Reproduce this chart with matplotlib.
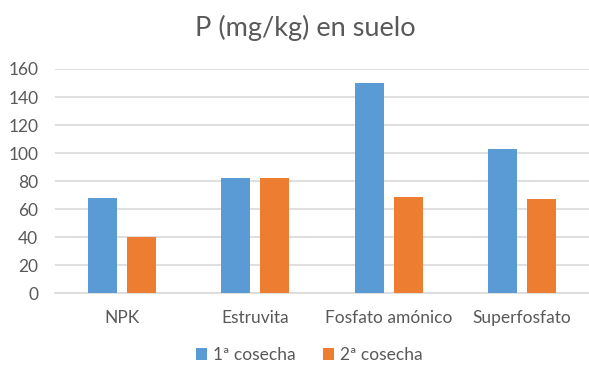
import numpy as np
import matplotlib.pyplot as plt

plt.rcParams['font.family'] = ['Lato', 'DejaVu Sans']

categorias = ['NPK', 'Estruvita', 'Fosfato amónico', 'Superfosfato']
cosecha_1 = [68, 82, 150, 103]
cosecha_2 = [40, 82, 69, 67]
series = ['1ª cosecha', '2ª cosecha']

AZUL = '#5B9BD5'
NARANJA = '#ED7D31'
GRIS_TEXTO = '#595959'
GRIS_REJILLA = '#D9D9D9'

fig = plt.figure(figsize=(5.89, 3.68), dpi=100)
ax = fig.add_axes([55 / 589, 74.7 / 368, 534 / 589, 224.3 / 368])

x = np.arange(len(categorias))
ancho = 0.217
desp = 0.146
ax.bar(x - desp, cosecha_1, ancho, color=AZUL, label=series[0], zorder=3)
ax.bar(x + desp, cosecha_2, ancho, color=NARANJA, label=series[1], zorder=3)

ax.set_xlim(-0.5, len(categorias) - 0.5)
ax.set_ylim(0, 160)
ax.set_yticks(np.arange(0, 161, 20))
ax.set_xticks(x)
ax.set_xticklabels(categorias)
ax.yaxis.grid(True, color=GRIS_REJILLA, linewidth=1.2, zorder=0)
ax.set_axisbelow(True)
for s in ['top', 'right', 'left']:
    ax.spines[s].set_visible(False)
ax.spines['bottom'].set_color(GRIS_REJILLA)
ax.spines['bottom'].set_linewidth(1.2)
ax.tick_params(axis='both', length=0, labelsize=12.5, labelcolor=GRIS_TEXTO)
ax.tick_params(axis='y', pad=12)
ax.tick_params(axis='x', pad=12)

fig.text(0.518, 0.925, 'P (mg/kg) en suelo', ha='center', va='center',
         fontsize=19.5, color=GRIS_TEXTO)

fig.legend(loc='center', bbox_to_anchor=(0.525, 0.035), ncol=2, frameon=False,
           fontsize=12.5, labelcolor=GRIS_TEXTO, handlelength=0.6, handleheight=0.6,
           handletextpad=0.35, columnspacing=1.6)

fig.savefig('out.png', dpi=100)
